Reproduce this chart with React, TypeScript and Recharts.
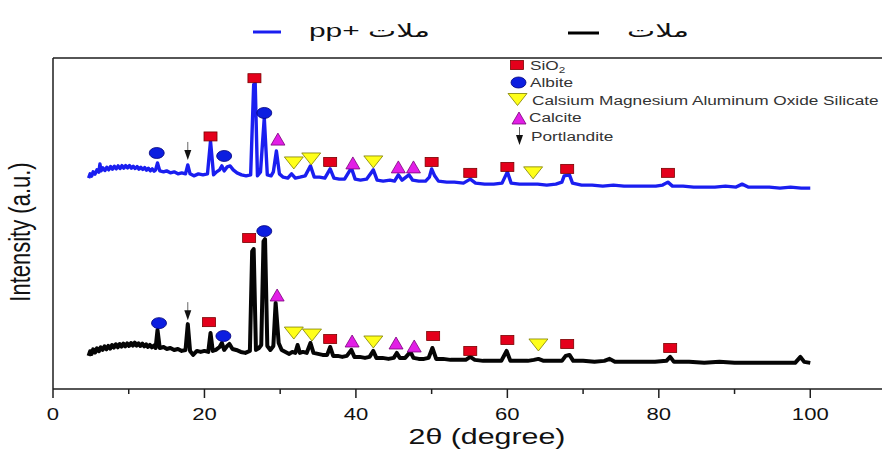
import React from "react";
import {
  ComposedChart,
  Line,
  Scatter,
  XAxis,
  YAxis,
  ReferenceLine,
} from "recharts";

// 2θ (deg), intensity (a.u.) — plain mortar, lower trace
const mortarPattern: [number, number][] = [
  [4.7, 10.0], [4.9, 11.4], [5.1, 10.6], [5.3, 12.0], [5.55, 11.0], [5.8, 12.3],
  [6.05, 11.4], [6.3, 12.6], [6.55, 11.8], [6.8, 12.9], [7.05, 12.0], [7.3, 13.0],
  [7.55, 12.2], [7.8, 13.3], [8.05, 12.5], [8.3, 13.5], [8.55, 12.6], [8.8, 13.6],
  [9.05, 12.8], [9.3, 13.7], [9.55, 12.9], [9.8, 13.8], [10.05, 13.0], [10.3, 13.9],
  [10.55, 13.1], [10.8, 14.0], [11.05, 13.1], [11.3, 13.8], [11.55, 13.0], [11.8, 13.7],
  [12.05, 12.9], [12.3, 13.5], [12.55, 12.7], [12.8, 13.3], [13.05, 12.6], [13.3, 13.1],
  [13.55, 12.4], [13.8, 17.8], [14.1, 12.4], [14.6, 12.7], [15.0, 12.1],
  [15.5, 12.4], [16.0, 11.8], [16.5, 12.1], [17.0, 11.5], [17.5, 11.8], [17.8, 19.6],
  [18.1, 11.5], [18.5, 10.3], [19.0, 11.5], [19.5, 11.2], [20.0, 11.5], [20.5, 11.2],
  [20.8, 16.9], [21.1, 11.5], [21.5, 11.8], [22.0, 12.7], [22.3, 13.9], [22.6, 11.8],
  [23.0, 13.0], [23.3, 13.6], [23.7, 12.1], [24.2, 11.8], [24.8, 11.2], [25.4, 10.9],
  [26.0, 11.5], [26.3, 41.6], [26.5, 42.3], [26.8, 11.8], [27.2, 12.4], [27.5, 13.3],
  [27.8, 44.6], [28.0, 45.3], [28.3, 13.0], [28.7, 11.8], [29.1, 13.0], [29.4, 26.0],
  [29.8, 13.9], [30.2, 11.8], [30.7, 11.2], [31.2, 10.6], [31.6, 11.2], [32.0, 10.9],
  [32.3, 13.3], [32.6, 10.9], [33.0, 11.2], [33.5, 10.9], [34.0, 13.9], [34.4, 10.9],
  [35.0, 10.6], [35.6, 10.3], [36.2, 10.3], [36.6, 12.7], [37.0, 10.0], [37.6, 10.0],
  [38.2, 9.7], [38.8, 10.0], [39.4, 11.8], [39.8, 9.7], [40.5, 9.7], [41.2, 9.4],
  [41.8, 9.7], [42.3, 11.5], [42.7, 9.4], [43.5, 9.4], [44.3, 9.1], [45.0, 9.4],
  [45.4, 10.9], [45.8, 9.4], [46.5, 9.4], [47.2, 11.2], [47.6, 9.4], [48.3, 9.1],
  [49.0, 9.1], [49.6, 9.4], [50.1, 12.4], [50.6, 9.1], [51.5, 9.1], [52.5, 8.8],
  [53.5, 8.8], [54.5, 8.8], [55.1, 9.7], [55.7, 8.8], [56.8, 8.5], [58.0, 8.5],
  [59.2, 8.5], [59.9, 11.5], [60.4, 8.5], [61.5, 8.5], [62.7, 8.5], [63.5, 8.8],
  [64.1, 9.1], [64.8, 8.5], [66.0, 8.5], [67.2, 8.5], [67.7, 10.0], [68.2, 10.3],
  [68.7, 8.5], [70.0, 8.5], [71.5, 8.2], [72.8, 8.5], [73.5, 9.1], [74.2, 8.2],
  [76.0, 8.2], [78.0, 8.2], [79.5, 8.2], [81.0, 8.5], [81.5, 9.7], [82.0, 8.2],
  [84.0, 8.2], [86.0, 7.9], [88.0, 8.2], [90.0, 7.9], [92.0, 7.9], [94.0, 7.9],
  [96.0, 7.9], [98.0, 7.9], [98.7, 9.7], [99.2, 8.2], [100.0, 7.9],
];

// mortar + pp, upper trace
const mortarPpPattern: [number, number][] = [
  [4.7, 63.7], [4.9, 65.0], [5.1, 64.3], [5.3, 65.6], [5.55, 64.9], [5.8, 66.2],
  [6.05, 65.5], [6.2, 68.0], [6.35, 65.9], [6.6, 66.8], [6.85, 66.0], [7.1, 67.0],
  [7.35, 66.2], [7.6, 67.2], [7.85, 66.4], [8.1, 67.3], [8.35, 66.5], [8.6, 67.4],
  [8.85, 66.6], [9.1, 67.5], [9.35, 66.7], [9.6, 67.5], [9.85, 66.8], [10.1, 67.5],
  [10.35, 66.7], [10.6, 67.3], [10.85, 66.6], [11.1, 67.2], [11.35, 66.4], [11.6, 67.0],
  [11.85, 66.3], [12.1, 66.9], [12.35, 66.1], [12.6, 66.7], [12.85, 65.9], [13.1, 66.5],
  [13.35, 65.8], [13.55, 66.2], [13.8, 68.3], [14.1, 65.9], [14.6, 65.6], [15.0, 65.9],
  [15.5, 65.3], [16.0, 65.6], [16.5, 65.0], [17.0, 65.3], [17.5, 65.0], [17.8, 67.7],
  [18.1, 65.0], [18.6, 64.4], [19.2, 65.0], [19.8, 64.7], [20.4, 65.0], [20.8, 74.9],
  [21.2, 64.7], [21.6, 65.6], [22.0, 66.2], [22.3, 67.4], [22.6, 65.9], [23.0, 67.1],
  [23.4, 67.4], [23.8, 66.2], [24.3, 65.3], [24.9, 64.7], [25.5, 64.4], [26.1, 64.7],
  [26.5, 92.0], [26.7, 92.4], [27.0, 64.4], [27.4, 65.6], [27.9, 81.9], [28.3, 64.7],
  [28.8, 64.4], [29.1, 65.6], [29.5, 71.9], [29.9, 65.0], [30.4, 64.0], [31.0, 63.7],
  [31.5, 65.0], [32.0, 63.7], [32.6, 64.0], [33.3, 64.4], [34.0, 67.4], [34.5, 64.0],
  [35.2, 64.0], [35.9, 63.7], [36.6, 66.5], [37.1, 63.7], [37.8, 63.4], [38.5, 63.4],
  [39.4, 66.8], [39.9, 63.4], [40.6, 63.1], [41.4, 63.4], [42.3, 66.2], [42.8, 63.1],
  [43.6, 62.8], [44.5, 63.1], [45.1, 62.8], [45.6, 64.7], [46.1, 63.1], [47.0, 64.7],
  [47.5, 63.1], [48.3, 62.8], [49.2, 62.8], [49.7, 64.0], [50.0, 66.5], [50.4, 64.4],
  [50.9, 62.8], [52.0, 62.5], [53.0, 62.5], [54.2, 62.2], [55.1, 63.4], [55.8, 62.2],
  [57.0, 61.9], [58.2, 61.9], [59.3, 62.2], [60.0, 65.6], [60.5, 62.2], [61.6, 61.9],
  [62.8, 61.9], [64.0, 61.9], [65.2, 61.6], [66.4, 61.9], [67.2, 62.5], [67.5, 64.4],
  [68.2, 64.7], [68.6, 62.2], [69.8, 61.6], [71.2, 61.6], [72.6, 61.3], [74.0, 61.6],
  [75.4, 61.3], [76.8, 61.3], [78.2, 61.3], [79.6, 61.3], [80.5, 61.6], [81.2, 62.5],
  [81.8, 61.3], [83.2, 61.3], [84.6, 61.0], [86.0, 61.0], [87.4, 61.0], [88.8, 61.3],
  [90.2, 61.0], [91.0, 61.9], [91.8, 61.0], [93.2, 61.0], [94.6, 61.0], [96.0, 60.7],
  [97.4, 61.0], [98.8, 60.7], [100.0, 60.7],
];

// phase markers, [2θ, y] on each trace
const sio2Pp: [number, number][] = [
  [26.6, 93.9], [20.8, 76.3], [36.6, 68.6], [50.0, 68.6], [55.1, 65.3], [60.0, 67.1], [67.9, 66.5], [81.2, 65.3],
];
const sio2Plain: [number, number][] = [
  [25.9, 45.6], [20.6, 20.2], [36.6, 15.1], [50.2, 16.0], [55.1, 11.5], [60.0, 14.8], [67.9, 13.6], [81.5, 12.4],
];
const albitePp: [number, number][] = [[13.7, 71.3], [22.6, 70.4], [27.9, 83.4]];
const albitePlain: [number, number][] = [[14.0, 19.9], [22.5, 16.0], [27.9, 47.7]];
const cmasPp: [number, number][] = [[31.8, 68.3], [34.1, 69.5], [42.3, 68.6], [63.4, 65.3]];
const cmasPlain: [number, number][] = [[31.8, 16.9], [34.2, 16.3], [42.3, 14.2], [64.1, 13.3]];
const calcitePp: [number, number][] = [[29.7, 75.5], [39.6, 68.3], [45.6, 67.1], [47.6, 67.1]];
const calcitePlain: [number, number][] = [[29.6, 28.4], [39.5, 14.5], [45.3, 13.9], [47.7, 13.0]];
const portlanditePp: [number, number][] = [[17.8, 69.2]];
const portlanditePlain: [number, number][] = [[17.8, 20.8]];

const xTicks = [0, 10, 20, 30, 40, 50, 60, 70, 80, 90, 100, 110];
const seriesNames = ["ملات +pp", "ملات"];
const phaseNames = ["Albite", "Calsium Magnesium Aluminum Oxide Silicate", "Calcite", "Portlandite"];

const FONT = '"Liberation Sans", Arial, "DejaVu Sans", sans-serif';
const SX = 1.38; // figure is stretched horizontally
const BLUE = "#1a1ef0";
const INK = "#1e1e1e";

const toPts = (rows: [number, number][]) => rows.map(([x, y]) => ({ x, y }));

function SquareMark({ cx, cy }: { cx: number; cy: number }) {
  return <rect x={cx - 6.5} y={cy - 4.5} width={13} height={9} fill="#e4001b" stroke="#7a0000" strokeWidth={0.8} />;
}
function CircleMark({ cx, cy }: { cx: number; cy: number }) {
  return <ellipse cx={cx} cy={cy} rx={7.5} ry={5.5} fill="#0c1ee0" stroke="#00007a" strokeWidth={0.8} />;
}
function UpMark({ cx, cy }: { cx: number; cy: number }) {
  return (
    <polygon
      points={`${cx},${cy - 6} ${cx - 7},${cy + 6} ${cx + 7},${cy + 6}`}
      fill="#e21ee6"
      stroke="#7a007a"
      strokeWidth={0.8}
    />
  );
}
function DownMark({ cx, cy }: { cx: number; cy: number }) {
  return (
    <polygon
      points={`${cx - 9.5},${cy - 6} ${cx + 9.5},${cy - 6} ${cx},${cy + 6}`}
      fill="#ffff1a"
      stroke="#7d7d00"
      strokeWidth={0.8}
    />
  );
}
// tip of the arrow sits on (cx, cy)
function ArrowMark({ cx, cy }: { cx: number; cy: number }) {
  return (
    <g>
      <line x1={cx} x2={cx} y1={cy - 18} y2={cy - 8} stroke="#666" strokeWidth={1} />
      <polygon points={`${cx - 3.5},${cy - 10} ${cx + 3.5},${cy - 10} ${cx},${cy}`} fill="#111" />
    </g>
  );
}

const shapeOf = (Mark: React.ComponentType<{ cx: number; cy: number }>) => (p: any) =>
  <Mark cx={p.cx} cy={p.cy} />;

function XTick({ x, y, payload }: any) {
  const major = payload.value % 20 === 0;
  return (
    <g>
      <line x1={x} x2={x} y1={y} y2={y + (major ? 9 : 5)} stroke={INK} strokeWidth={1.5} />
      {major && (
        <text
          transform={`translate(${x},${y + 31}) scale(${SX},1)`}
          textAnchor="middle"
          fontSize={16}
          fontFamily={FONT}
          fill="#111"
        >
          {payload.value}
        </text>
      )}
    </g>
  );
}

function Overlay() {
  const rowText = (x: number, y: number, content: React.ReactNode) => (
    <text transform={`translate(${x},${y}) scale(${SX},1)`} fontSize={12.5} fontFamily={FONT} fill="#333">
      {content}
    </text>
  );
  return (
    <svg width={882} height={450} style={{ position: "absolute", left: 0, top: 0, pointerEvents: "none" }}>
      {/* series legend */}
      <line x1={253} x2={281} y1={32} y2={32} stroke={BLUE} strokeWidth={3} />
      <text x={369.5} y={37} textAnchor="middle" direction="rtl" fontSize={18} fontFamily={FONT}
        textLength={121} lengthAdjust="spacingAndGlyphs" fill="#111">
        {seriesNames[0]}
      </text>
      <line x1={568} x2={599} y1={33} y2={33} stroke="#000" strokeWidth={3} />
      <text x={658} y={37} textAnchor="middle" direction="rtl" fontSize={18} fontFamily={FONT}
        textLength={62} lengthAdjust="spacingAndGlyphs" fill="#111">
        {seriesNames[1]}
      </text>

      {/* phase key */}
      <SquareMark cx={517} cy={65} />
      {rowText(530, 69.5, <>SiO<tspan dy={3} fontSize={8.5}>2</tspan></>)}
      <CircleMark cx={518.5} cy={82.5} />
      {rowText(530, 87, phaseNames[0])}
      <DownMark cx={517.5} cy={99.5} />
      {rowText(532, 104.5, phaseNames[1])}
      <UpMark cx={519} cy={118} />
      {rowText(529, 122, phaseNames[2])}
      <ArrowMark cx={519.5} cy={145} />
      {rowText(531, 140.5, phaseNames[3])}

      {/* axis titles */}
      <text transform={`translate(30,232) scale(${SX},1) rotate(-90)`} textAnchor="middle"
        fontSize={22} fontFamily={FONT} fill="#111">
        Intensity (a.u.)
      </text>
      <text transform={`translate(487,444) scale(${SX},1)`} textAnchor="middle"
        fontSize={22} fontFamily={FONT} fill="#111">
        2θ (degree)
      </text>
    </svg>
  );
}

export default function App() {
  return (
    <div style={{ position: "absolute", left: 0, top: 0, width: 882, height: 450, overflow: "hidden", background: "#fff" }}>
      <ComposedChart width={890} height={450} margin={{ top: 58, right: 4, bottom: 0, left: 0 }}>
        <XAxis
          dataKey="x"
          type="number"
          domain={[0, 110]}
          ticks={xTicks}
          interval={0}
          height={61}
          tickSize={0}
          tickMargin={0}
          tickLine={false}
          axisLine={{ stroke: INK, strokeWidth: 1.5 }}
          tick={<XTick />}
        />
        <YAxis
          dataKey="y"
          type="number"
          domain={[0, 100]}
          width={53}
          tick={false}
          tickLine={false}
          axisLine={{ stroke: INK, strokeWidth: 1.5 }}
        />
        <ReferenceLine y={100} stroke={INK} strokeWidth={1.5} />
        <Line
          data={toPts(mortarPattern)}
          dataKey="y"
          type="linear"
          stroke="#050505"
          strokeWidth={4}
          strokeLinejoin="round"
          dot={false}
          isAnimationActive={false}
        />
        <Line
          data={toPts(mortarPpPattern)}
          dataKey="y"
          type="linear"
          stroke={BLUE}
          strokeWidth={3.4}
          strokeLinejoin="round"
          dot={false}
          isAnimationActive={false}
        />
        <Scatter data={toPts([...sio2Pp, ...sio2Plain])} shape={shapeOf(SquareMark)} isAnimationActive={false} />
        <Scatter data={toPts([...albitePp, ...albitePlain])} shape={shapeOf(CircleMark)} isAnimationActive={false} />
        <Scatter data={toPts([...cmasPp, ...cmasPlain])} shape={shapeOf(DownMark)} isAnimationActive={false} />
        <Scatter data={toPts([...calcitePp, ...calcitePlain])} shape={shapeOf(UpMark)} isAnimationActive={false} />
        <Scatter data={toPts([...portlanditePp, ...portlanditePlain])} shape={shapeOf(ArrowMark)} isAnimationActive={false} />
      </ComposedChart>
      <Overlay />
    </div>
  );
}
